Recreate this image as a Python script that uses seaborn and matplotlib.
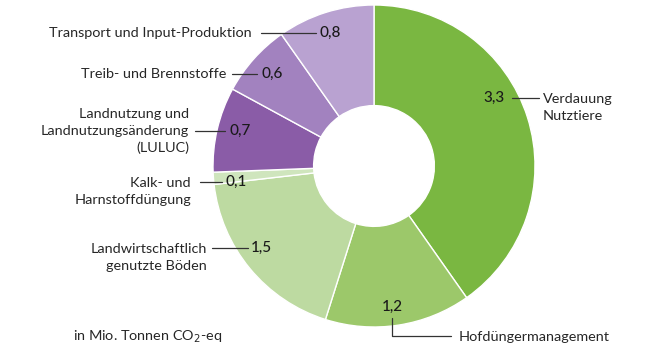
import matplotlib
matplotlib.use("Agg")
import matplotlib.pyplot as plt
import seaborn as sns

# data (Mio. Tonnen CO2-eq), clockwise from the top
categories = ["Verdauung\nNutztiere", "Hofdüngermanagement", "Landwirtschaftlich\ngenutzte Böden",
              "Kalk- und\nHarnstoffdüngung", "Landnutzung und\nLandnutzungsänderung\n(LULUC)",
              "Treib- und Brennstoffe", "Transport und Input-Produktion"]
values = [3.3, 1.2, 1.5, 0.1, 0.7, 0.6, 0.8]
value_labels = ["3,3", "1,2", "1,5", "0,1", "0,7", "0,6", "0,8"]
colors = ["#7ab741", "#9cc86a", "#bddaa1", "#cfe5bd", "#8a5ca7", "#a282bf", "#b9a2d1"]

sns.set_theme(style="white")
plt.rcParams['font.family'] = ['Lato', 'DejaVu Sans']

W, H = 656, 358
fig = plt.figure(figsize=(W / 100, H / 100), dpi=100)
ax = fig.add_axes([0, 0, 1, 1])
ax.axis("off")

def Y(y):
    return H - y

cx, cy, r = 374, 166, 161
ax.pie(values, colors=colors, startangle=90, counterclock=False,
       center=(cx, Y(cy)), radius=r,
       wedgeprops=dict(width=r * 0.625, edgecolor="white", linewidth=1))
ax.set_xlim(0, W)
ax.set_ylim(0, H)
ax.set_aspect("equal")

txt = "#262626"
fs = 10.4
vfs = 11
lc = "#333333"
ls = 1.5

def label(i, x, y, ha):
    ax.text(x, Y(y), categories[i], ha=ha, va="center", fontsize=fs,
            color=txt, linespacing=ls, multialignment=ha)

def value(i, x, y, ha="left"):
    ax.text(x, Y(y), value_labels[i], ha=ha, va="center", fontsize=vfs,
            color="#1a1a1a", fontweight="medium")

def hline(x0, x1, y):
    ax.plot([x0, x1], [Y(y), Y(y)], color=lc, lw=0.9)

# Transport
label(6, 252, 33, "right")
hline(261, 316, 33)
value(6, 319, 33)
# Treib
label(5, 226, 74, "right")
hline(232, 257, 74)
value(5, 261, 74)
# LULUC
label(4, 189, 131, "right")
hline(195, 225, 131)
value(4, 229, 131)
# Kalk
label(3, 191, 191.5, "right")
hline(200, 222, 182)
value(3, 225, 182)
# Böden
label(2, 207, 257.5, "right")
hline(212, 248, 248)
value(2, 251, 248)
# Verdauung
value(0, 505, 98, "right")
hline(512, 539, 98)
label(0, 543, 107.5, "left")
# Hofdünger
value(1, 392, 307, "center")
ax.plot([392, 392, 451], [Y(318), Y(336), Y(336)], color=lc, lw=0.9)
label(1, 459, 337, "left")

ax.text(73, Y(337), "in Mio. Tonnen CO$_2$-eq", ha="left", va="center", fontsize=fs, color=txt)

fig.savefig("out.png", dpi=100, facecolor="white")
